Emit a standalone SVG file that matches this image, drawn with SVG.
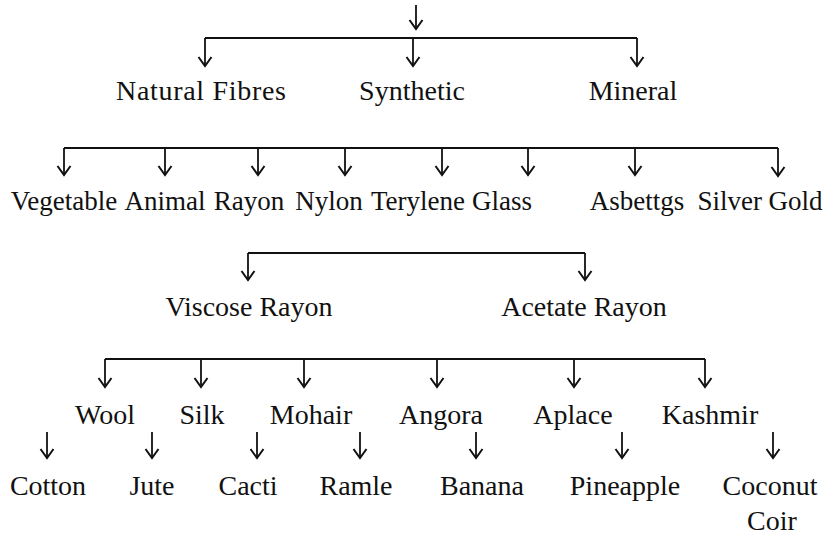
<svg xmlns="http://www.w3.org/2000/svg" width="827" height="535" viewBox="0 0 827 535">
<style>
.c{fill:none;stroke:#111;stroke-width:1.8;}
.a{marker-end:url(#ah);}
.t text{font-size:28px;fill:#111;text-anchor:middle;}
.t .s{font-size:27px;}
</style>
<defs>
<marker id="ah" markerUnits="userSpaceOnUse" markerWidth="16" markerHeight="16" viewBox="-12 -8 14 16" refX="0" refY="0" orient="auto">
<path d="M-9,-6.5 L0,0 L-9,6.5" fill="none" stroke="#111" stroke-width="2"/>
</marker>
</defs>
<rect width="827" height="535" fill="#fff"/>
<g id="connectors">
<path class="c a" d="M416,5 V29"/>
<path class="c" d="M205,38 H637"/>
<path class="c a" d="M205,38 V66"/>
<path class="c a" d="M413,38 V66"/>
<path class="c a" d="M637,38 V66"/>
<path class="c" d="M64,148 H778"/>
<path class="c a" d="M64,148 V175"/>
<path class="c a" d="M165,148 V175"/>
<path class="c a" d="M258,148 V175"/>
<path class="c a" d="M345,148 V175"/>
<path class="c a" d="M442,148 V175"/>
<path class="c a" d="M528,148 V175"/>
<path class="c a" d="M635,148 V175"/>
<path class="c a" d="M778,148 V176"/>
<path class="c" d="M248,253 H585"/>
<path class="c a" d="M248,253 V280"/>
<path class="c a" d="M585,253 V280"/>
<path class="c" d="M105,359 H705"/>
<path class="c a" d="M105,359 V387"/>
<path class="c a" d="M201,359 V387"/>
<path class="c a" d="M304,359 V387"/>
<path class="c a" d="M437,359 V387"/>
<path class="c a" d="M574,359 V387"/>
<path class="c a" d="M705,359 V387"/>
<path class="c a" d="M47,432 V458"/>
<path class="c a" d="M152,432 V458"/>
<path class="c a" d="M257,432 V458"/>
<path class="c a" d="M360,432 V458"/>
<path class="c a" d="M476,432 V458"/>
<path class="c a" d="M622,432 V458"/>
<path class="c a" d="M773,432 V458"/>
</g>
<g class="t" font-family="'Liberation Serif', 'DejaVu Serif', serif">
<g id="natural-fibres"><text x="201" y="100" textLength="170">Natural Fibres</text></g>
<g id="synthetic"><text x="412" y="100">Synthetic</text></g>
<g id="mineral"><text x="633" y="100">Mineral</text></g>
<g id="vegetable"><text class="s" x="64" y="210">Vegetable</text></g>
<g id="animal"><text class="s" x="165" y="210">Animal</text></g>
<g id="rayon"><text class="s" x="249" y="210">Rayon</text></g>
<g id="nylon"><text class="s" x="329" y="210">Nylon</text></g>
<g id="terylene"><text class="s" x="418" y="210">Terylene</text></g>
<g id="glass"><text class="s" x="502" y="210">Glass</text></g>
<g id="asbettgs"><text class="s" x="637" y="210">Asbettgs</text></g>
<g id="silver-gold"><text class="s" x="760" y="210">Silver Gold</text></g>
<g id="viscose-rayon"><text x="249" y="316">Viscose Rayon</text></g>
<g id="acetate-rayon"><text x="584" y="316">Acetate Rayon</text></g>
<g id="wool"><text x="105" y="424">Wool</text></g>
<g id="silk"><text x="202" y="424">Silk</text></g>
<g id="mohair"><text x="311" y="424">Mohair</text></g>
<g id="angora"><text x="441" y="424">Angora</text></g>
<g id="aplace"><text x="573" y="424">Aplace</text></g>
<g id="kashmir"><text x="710" y="424">Kashmir</text></g>
<g id="cotton"><text x="48" y="495">Cotton</text></g>
<g id="jute"><text x="152" y="495">Jute</text></g>
<g id="cacti"><text x="248" y="495">Cacti</text></g>
<g id="ramle"><text x="356" y="495">Ramle</text></g>
<g id="banana"><text x="482" y="495">Banana</text></g>
<g id="pineapple"><text x="625" y="495">Pineapple</text></g>
<g id="coconut-coir"><text x="770" y="495">Coconut</text><text x="772" y="530">Coir</text></g>
</g>
</svg>
